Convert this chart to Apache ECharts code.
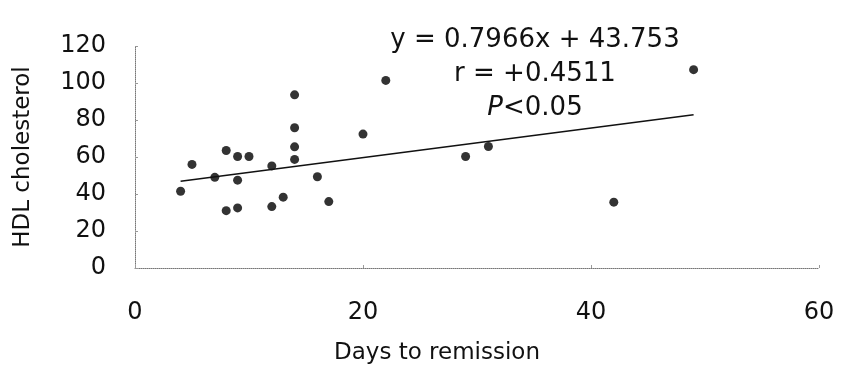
<!DOCTYPE html>
<html>
<head>
<meta charset="utf-8">
<script src="https://cdn.jsdelivr.net/npm/echarts@6/dist/echarts.min.js"></script>
<style>
  html, body { margin: 0; padding: 0; background: #fff; }
  #main { width: 844px; height: 385px; }
</style>
</head>
<body>
<div id="main"></div>
<script>
// days to remission vs HDL cholesterol
const days = [4, 5, 7, 8, 8, 9, 9, 9, 10, 12, 12, 13, 14, 14, 14, 14, 16, 17, 20, 22, 29, 31, 42, 49];
const hdl = [41.5, 56, 49, 63.5, 31, 60.3, 47.5, 32.5, 60.3, 33.2, 55.2, 38.3, 93.6, 75.8, 65.5, 58.7, 49.3, 35.9, 72.4, 101.4, 60.3, 65.7, 35.6, 107.2];

// regression shown on the chart
const slope = 0.7966;
const intercept = 43.753;
const fitX = [4, 49];

const xTicks = [0, 20, 40, 60];
const yTicks = [0, 20, 40, 60, 80, 100, 120];

const font = 'DejaVu Sans';

var chart = echarts.init(document.getElementById('main'));

var points = days.map((d, i) => [d, hdl[i]]);
var fitLine = fitX.map(x => [x, slope * x + intercept]);

var option = {
    animation: false,
    grid: {
        left: 135,
        right: 25,
        top: 46,
        bottom: 117
    },
    xAxis: {
        type: 'value',
        min: xTicks[0],
        max: xTicks[xTicks.length - 1],
        interval: 20,
        name: 'Days to remission',
        nameLocation: 'middle',
        nameGap: 74,
        nameTextStyle: {
            fontFamily: font,
            fontSize: 23,
            color: '#111',
            padding: [0, 80, 0, 0]
        },
        axisLine: { lineStyle: { color: '#777', type: 'dotted', width: 1 } },
        axisTick: { inside: true, length: 3, lineStyle: { color: '#999' } },
        axisLabel: {
            margin: 33,
            fontFamily: font,
            fontSize: 24,
            color: '#111'
        },
        splitLine: { show: false }
    },
    yAxis: {
        type: 'value',
        min: yTicks[0],
        max: yTicks[yTicks.length - 1],
        interval: 20,
        name: 'HDL cholesterol',
        nameLocation: 'middle',
        nameGap: 100,
        nameTextStyle: {
            fontFamily: font,
            fontSize: 23,
            color: '#111'
        },
        axisLine: { show: true, lineStyle: { color: '#777', type: 'dotted', width: 1 } },
        axisTick: { show: true, inside: true, length: 3, lineStyle: { color: '#999' } },
        axisLabel: {
            margin: 29,
            fontFamily: font,
            fontSize: 24,
            color: '#111'
        },
        splitLine: { show: false }
    },
    graphic: [{
        type: 'text',
        x: 535,
        y: 23,
        style: {
            text: 'y = 0.7966x + 43.753\nr = +0.4511\n{i|P}<0.05',
            align: 'center',
            fontFamily: font,
            fontSize: 26,
            lineHeight: 34,
            fill: '#111',
            rich: {
                i: { fontStyle: 'italic', fontFamily: font, fontSize: 26 }
            }
        }
    }],
    series: [{
        name: 'patients',
        type: 'scatter',
        data: points,
        symbol: 'circle',
        symbolSize: 9,
        itemStyle: { color: '#000' }
    }, {
        name: 'fit',
        type: 'line',
        data: fitLine,
        symbol: 'none',
        lineStyle: { color: '#111', width: 1.5 }
    }]
};

chart.setOption(option);
</script>
</body>
</html>
